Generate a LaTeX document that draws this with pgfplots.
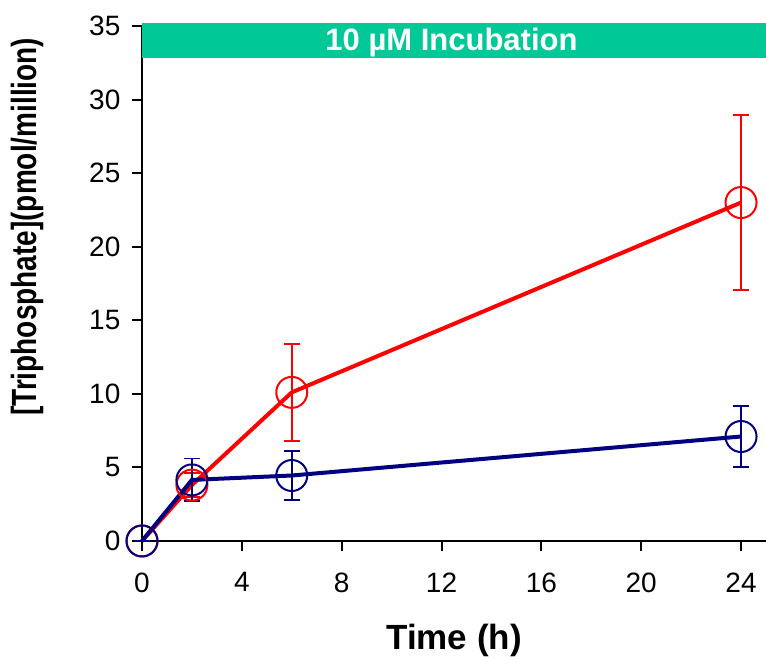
\documentclass[border=0pt]{standalone}
\usepackage{fontspec}
\setmainfont{Liberation Sans}
\usepackage{pgfplots}
\pgfplotsset{compat=1.18}
\definecolor{incgreen}{RGB}{0,201,151}
\definecolor{navyb}{RGB}{0,0,128}
\begin{document}
\begin{tikzpicture}
\begin{axis}[
  scale only axis, width=312pt, height=257.5pt,
  xmin=0, xmax=25, ymin=0, ymax=35,
  axis x line=bottom, axis y line=left,
  axis line style={-, line width=1pt, black},
  xtick={0,4,...,24}, ytick={0,5,...,35},
  tick align=outside, major tick length=5pt,
  tick style={line width=1pt, black},
  ticklabel style={font=\fontsize{14}{16}\selectfont},
  yticklabel style={xshift=-2.3pt},
  xticklabel style={yshift=-7.3pt},
  /pgf/number format/assume math mode=true,
  clip=false,
  xlabel={\fontsize{17.5}{20}\selectfont\bfseries Time (h)},
  xlabel style={at={(axis description cs:0.5,0)}, anchor=center, yshift=-49.5pt},
  ylabel={\scalebox{0.8}[1]{\fontsize{17.5}{20}\selectfont\bfseries [Triphosphate](pmol/million)}},
  ylabel style={at={([xshift=-57.5pt]axis description cs:0,0.61)}, anchor=center, rotate=0},
]
\fill[incgreen] (axis cs:0,32.8) rectangle (axis cs:25,35.2);
\node[text=white, font=\fontsize{15.5}{18}\selectfont\bfseries] at (axis cs:12.4,33.9) {10 µM Incubation};
\addplot[red, line width=2pt, mark=o, mark size=7.75pt, mark options={line width=1pt, solid, fill=none},
  error bars/.cd, y dir=both, y explicit,
  error bar style={line width=0.85pt, red},
  error mark options={rotate=90, mark size=4pt, line width=0.85pt, red}]
  coordinates {(0,0) +- (0,0) (2,3.8) +- (0,0.8) (6,10.1) +- (0,3.3) (24,23.0) +- (0,5.95)};
\addplot[navyb, line width=2pt, mark=o, mark size=7.75pt, mark options={line width=1pt, solid, fill=none},
  error bars/.cd, y dir=both, y explicit,
  error bar style={line width=0.85pt, navyb},
  error mark options={rotate=90, mark size=4pt, line width=0.85pt, navyb}]
  coordinates {(0,0) +- (0,0) (2,4.15) +- (0,1.45) (6,4.45) +- (0,1.65) (24,7.1) +- (0,2.07)};
\end{axis}
\pgfresetboundingbox
\path ([shift={(-71pt,-59.5pt)}]current axis.south west) rectangle ([shift={(0pt,13pt)}]current axis.north east);
\end{tikzpicture}
\end{document}
